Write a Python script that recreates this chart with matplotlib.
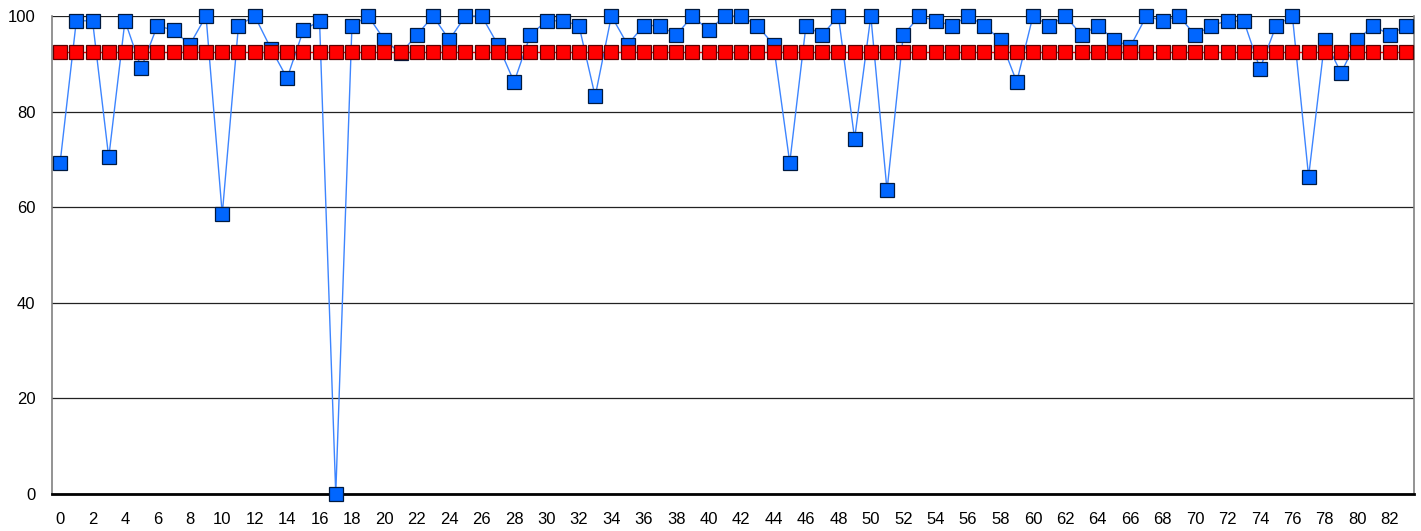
import matplotlib
matplotlib.use('Agg')
import matplotlib.pyplot as plt
import numpy as np

plt.rcParams['font.family'] = ['Liberation Sans', 'DejaVu Sans']

# Data
blue_values = [69.3, 99, 99, 70.4, 99, 89.1, 98, 97, 94, 100,
               58.5, 98, 100, 93.2, 87, 97, 99, 0, 98, 100,
               95, 92.2, 96, 100, 95, 100, 100, 94, 86.2, 96,
               99, 99, 98, 83.2, 100, 94, 98, 98, 96, 100,
               97, 100, 100, 98, 94, 69.3, 98, 96, 100, 74.3,
               100, 63.5, 96, 100, 99, 98, 100, 98, 95, 86.2,
               100, 98, 100, 96, 98, 95, 93.6, 100, 99, 100,
               96, 98, 99, 99, 89, 98, 100, 66.4, 95, 88.1,
               95, 98, 96, 98]
red_level = 92.4
x = np.arange(len(blue_values))
red_values = [red_level] * len(blue_values)

BLUE = '#0066FF'
BLUE_LINE = '#3D85FF'
RED = '#FF0000'

fig = plt.figure(figsize=(14.21, 5.31), dpi=100, facecolor='white')
ax = fig.add_axes([52 / 1421, 1 - 494 / 531, (1414 - 52) / 1421, (494 - 16) / 531])

# blue series first, red markers drawn over it
ax.plot(x, blue_values, color=BLUE_LINE, linewidth=1, marker='s', markersize=9.6,
        markerfacecolor=BLUE, markeredgecolor='#001A40', markeredgewidth=0.9,
        zorder=3, clip_on=False)
ax.plot(x, red_values, color=RED, linewidth=1, marker='s', markersize=9.6,
        markerfacecolor=RED, markeredgecolor='#5A0000', markeredgewidth=0.9,
        zorder=4, clip_on=False)

ax.set_xlim(-0.5, len(blue_values) - 0.5)
ax.set_ylim(0, 100)
ax.set_yticks([0, 20, 40, 60, 80, 100])
ax.set_xticks(np.arange(0, len(blue_values), 2))

ax.yaxis.grid(True, color='#222222', linewidth=0.9)
ax.set_axisbelow(True)

ax.tick_params(axis='both', length=0, labelsize=12, colors='black')
ax.tick_params(axis='y', pad=12)
ax.tick_params(axis='x', pad=13)

for side in ['left', 'right']:
    ax.spines[side].set_color('#808080')
    ax.spines[side].set_linewidth(1.2)
ax.spines['top'].set_visible(False)
ax.spines['bottom'].set_color('black')
ax.spines['bottom'].set_linewidth(2)
for s in ax.spines.values():
    s.set_zorder(2)

fig.savefig('out.png', dpi=100, facecolor='white')
